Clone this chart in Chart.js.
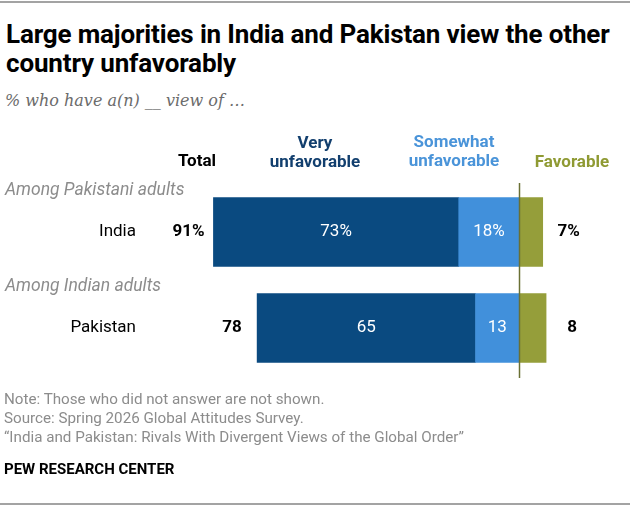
<!DOCTYPE html>
<html>
<head>
<meta charset="utf-8">
<script src="https://cdn.jsdelivr.net/npm/chart.js@4.4.1/dist/chart.umd.min.js"></script>
<style>
  html, body { margin: 0; padding: 0; background: #fff; }
  body { width: 639px; height: 508px; position: relative; overflow: hidden; font-family: Roboto, 'Noto Sans', sans-serif; }
  .rule { position: absolute; left: 0; width: 630px; height: 2px; background: #a3a3a3; }
  #title { position: absolute; left: 6px; top: 20px; font-size: 26px; font-weight: 700; line-height: 29px; color: #000; letter-spacing: -0.15px; white-space: nowrap; }
  #subtitle { position: absolute; left: 5px; top: 91px; font-family: 'DejaVu Serif', 'Liberation Serif', serif; font-style: italic; font-size: 16px; color: #6b6b6b; }
  #notes { position: absolute; left: 4px; top: 390px; font-size: 15.2px; line-height: 19px; color: #8c8c8c; white-space: nowrap; }
  #brand { position: absolute; left: 4px; top: 460px; font-size: 15px; font-weight: 700; color: #000; }
  #chart { position: absolute; left: 0; top: 0; }
</style>
</head>
<body>
<div class="rule" style="top:1px"></div>
<div id="title">Large majorities in India and Pakistan view the other<br>country unfavorably</div>
<div id="subtitle">% who have a(n) __ view of …</div>
<canvas id="chart" width="639" height="508"></canvas>
<div id="notes">Note: Those who did not answer are not shown.<br>Source: Spring 2026 Global Attitudes Survey.<br>“India and Pakistan: Rivals With Divergent Views of the Global Order”</div>
<div id="brand">PEW RESEARCH CENTER</div>
<div class="rule" style="top:503px"></div>
<script>
const categories = ['India', 'Pakistan'];
const groups = ['Among Pakistani adults', 'Among Indian adults'];
const veryUnfavorable = [73, 65];
const somewhatUnfavorable = [18, 13];
const favorable = [7, 8];
const totals = [91, 78];

const darkBlue = '#0a4a80';
const lightBlue = '#4190db';
const olive = '#959e3a';

function fmt(value, i) {
  return i === 0 ? `${value}%` : `${value}`;
}

const pewLabels = {
  id: 'pewLabels',
  afterDatasetsDraw(chart) {
    const { ctx, chartArea, scales: { x } } = chart;
    const somewhatBars = chart.getDatasetMeta(0).data;
    const veryBars = chart.getDatasetMeta(1).data;
    const favBars = chart.getDatasetMeta(2).data;

    ctx.save();
    // zero line
    const zero = Math.round(x.getPixelForValue(0)) + 0.5;
    ctx.strokeStyle = '#6a7034';
    ctx.lineWidth = 1.5;
    ctx.beginPath();
    ctx.moveTo(zero, chartArea.top - 1);
    ctx.lineTo(zero, chartArea.bottom + 2);
    ctx.stroke();

    // column headers
    ctx.textAlign = 'center';
    ctx.textBaseline = 'alphabetic';
    ctx.font = "700 17px Roboto, sans-serif";
    ctx.fillStyle = '#000';
    ctx.fillText('Total', 197, 166);
    ctx.fillStyle = '#123f6e';
    ctx.fillText('Very', 315, 148);
    ctx.fillText('unfavorable', 315, 167);
    ctx.fillStyle = '#4a94d9';
    ctx.fillText('Somewhat', 454, 147);
    ctx.fillText('unfavorable', 454, 166);
    ctx.fillStyle = '#8f9a33';
    ctx.fillText('Favorable', 572, 167);

    categories.forEach((cat, i) => {
      const very = veryBars[i];
      const some = somewhatBars[i];
      const fav = favBars[i];
      const y = very.y;

      ctx.textBaseline = 'middle';
      // group label
      ctx.textAlign = 'left';
      ctx.font = "italic 17.5px Roboto, sans-serif";
      ctx.fillStyle = '#8c8c8c';
      ctx.fillText(groups[i], 5, y - 41);

      // category label
      ctx.textAlign = 'right';
      ctx.font = "17px Roboto, sans-serif";
      ctx.fillStyle = '#000';
      ctx.fillText(cat, 136, y);

      // in-bar values
      ctx.textAlign = 'center';
      ctx.fillStyle = '#fff';
      ctx.fillText(fmt(veryUnfavorable[i], i), (very.x + very.base) / 2, y);
      ctx.fillText(fmt(somewhatUnfavorable[i], i), (some.x + some.base) / 2, y);

      // total and favorable
      ctx.font = "700 17px Roboto, sans-serif";
      ctx.fillStyle = '#000';
      ctx.fillText(fmt(totals[i], i), Math.min(very.x, very.base) - 25, y);
      ctx.fillText(fmt(favorable[i], i), Math.max(fav.x, fav.base) + 26, y);
    });
    ctx.restore();
  }
};

new Chart(document.getElementById('chart'), {
  type: 'bar',
  data: {
    labels: categories,
    datasets: [
      {
        label: 'Somewhat unfavorable',
        data: somewhatUnfavorable.map((v) => -v),
        backgroundColor: lightBlue
      },
      {
        label: 'Very unfavorable',
        data: veryUnfavorable.map((v) => -v),
        backgroundColor: darkBlue
      },
      {
        label: 'Favorable',
        data: favorable,
        backgroundColor: olive
      }
    ]
  },
  options: {
    indexAxis: 'y',
    responsive: false,
    animation: false,
    barThickness: 69,
    layout: { padding: { left: 116, right: 19, top: 184, bottom: 132 } },
    plugins: {
      legend: { display: false },
      tooltip: { enabled: false }
    },
    scales: {
      x: { stacked: true, min: -120, max: 30, display: false },
      y: { stacked: true, display: false }
    }
  },
  plugins: [pewLabels]
});
</script>
</body>
</html>
